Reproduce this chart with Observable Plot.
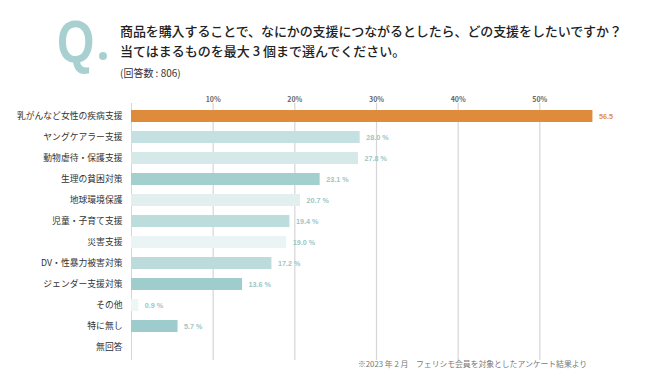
<!DOCTYPE html>
<html>
<head>
<meta charset="utf-8">
<script src="https://cdn.jsdelivr.net/npm/d3@7"></script>
<script src="https://cdn.jsdelivr.net/npm/@observablehq/plot@0.6"></script>
<style>
  body { margin: 0; background: #fff; font-family: "Noto Sans CJK JP", sans-serif; }
  #wrap { position: relative; width: 650px; height: 376px; overflow: hidden; }
  #head { position: relative; height: 80px; }
  #q { position: absolute; left: 57px; top: 12px; font-family: "Liberation Sans", Arial, sans-serif; font-weight: bold; font-size: 60px; color: #a8d0d1; line-height: 1; transform: scaleX(0.8); transform-origin: left top; }
  #qdot { position: absolute; left: 99px; top: 52px; width: 8px; height: 8px; border-radius: 50%; background: #a8d0d1; }
  .t { position: absolute; left: 120px; color: #222; white-space: nowrap; }
  #t1 { top: 21px; font-size: 13px; font-weight: 500; letter-spacing: -0.1px; }
  #t2 { top: 41px; font-size: 13px; font-weight: 500; }
  #t3 { top: 65px; font-size: 10px; color: #333; }
  #foot { position: absolute; left: 358px; top: 358px; font-size: 7.8px; color: #777; white-space: nowrap; }
  #chart { position: absolute; left: 0; top: 80px; }
</style>
</head>
<body>
<div id="wrap">
  <div id="head">
    <div id="q">Q</div>
    <div id="qdot"></div>
    <div class="t" id="t1">商品を購入することで、なにかの支援につながるとしたら、どの支援をしたいですか？</div>
    <div class="t" id="t2">当てはまるものを最大 3 個まで選んでください。</div>
    <div class="t" id="t3">(回答数 : 806)</div>
  </div>
  <div id="chart"></div>
  <div id="foot">※2023 年 2 月　フェリシモ会員を対象としたアンケート結果より</div>
</div>
<script>
const categories = ["乳がんなど女性の疾病支援","ヤングケアラー支援","動物虐待・保護支援","生理の貧困対策","地球環境保護","児童・子育て支援","災害支援","DV・性暴力被害対策","ジェンダー支援対策","その他","特に無し","無回答"];
const values = [56.5, 28.0, 27.8, 23.1, 20.7, 19.4, 19.0, 17.2, 13.6, 0.9, 5.7, 0];
const valueLabels = ["56.5","28.0 %","27.8 %","23.1 %","20.7 %","19.4 %","19.0 %","17.2 %","13.6 %","0.9 %","5.7 %",""];
const barColors = ["#de8c3c","#c4e0e0","#d5e9e9","#a3cfcf","#e2efef","#bddcdc","#ebf4f4","#bcdcdc","#9fcdcd","#eef5f5","#9ecbcb","#ffffff"];
const labelColors = ["#e0903f","#9cc6c6","#9cc6c6","#9cc6c6","#9cc6c6","#9cc6c6","#9cc6c6","#9cc6c6","#9cc6c6","#9cc6c6","#9cc6c6","#9cc6c6"];
const xTicks = [10, 20, 30, 40, 50];

const data = categories.map((c, i) => ({cat: c, v: values[i], lab: valueLabels[i], fill: barColors[i], lc: labelColors[i]}));

const plot = Plot.plot({
  width: 650,
  height: 296,
  marginTop: 23,
  marginBottom: 16,
  marginLeft: 131,
  marginRight: 29,
  style: {fontFamily: "'Noto Sans CJK JP', sans-serif", background: "transparent"},
  x: {domain: [0, 60], ticks: xTicks},
  y: {domain: categories, paddingInner: 0.42, paddingOuter: 0.21},
  marks: [
    Plot.ruleX(xTicks, {stroke: "#d6d6d6", strokeWidth: 1.2}),
    Plot.ruleX([0], {stroke: "#d6d6d6", strokeWidth: 1}),
    Plot.barX(data, {x: "v", y: "cat", fill: "fill"}),
    Plot.text(data, {x: "v", y: "cat", text: "lab", fill: "lc", dx: 6, textAnchor: "start", fontSize: 7.2, fontWeight: "bold", fontFamily: "'Liberation Sans', Arial, sans-serif"}),
    Plot.axisX(xTicks, {anchor: "top", tickSize: 0, tickPadding: 1.5, tickFormat: d => d + "%", fontSize: 7, fontWeight: "bold", fill: "#666", label: null}),
    Plot.axisY({tickSize: 0, tickPadding: 9, fontSize: 8.8, fill: "#333", label: null})
  ]
});
document.getElementById("chart").appendChild(plot);
</script>
</body>
</html>
